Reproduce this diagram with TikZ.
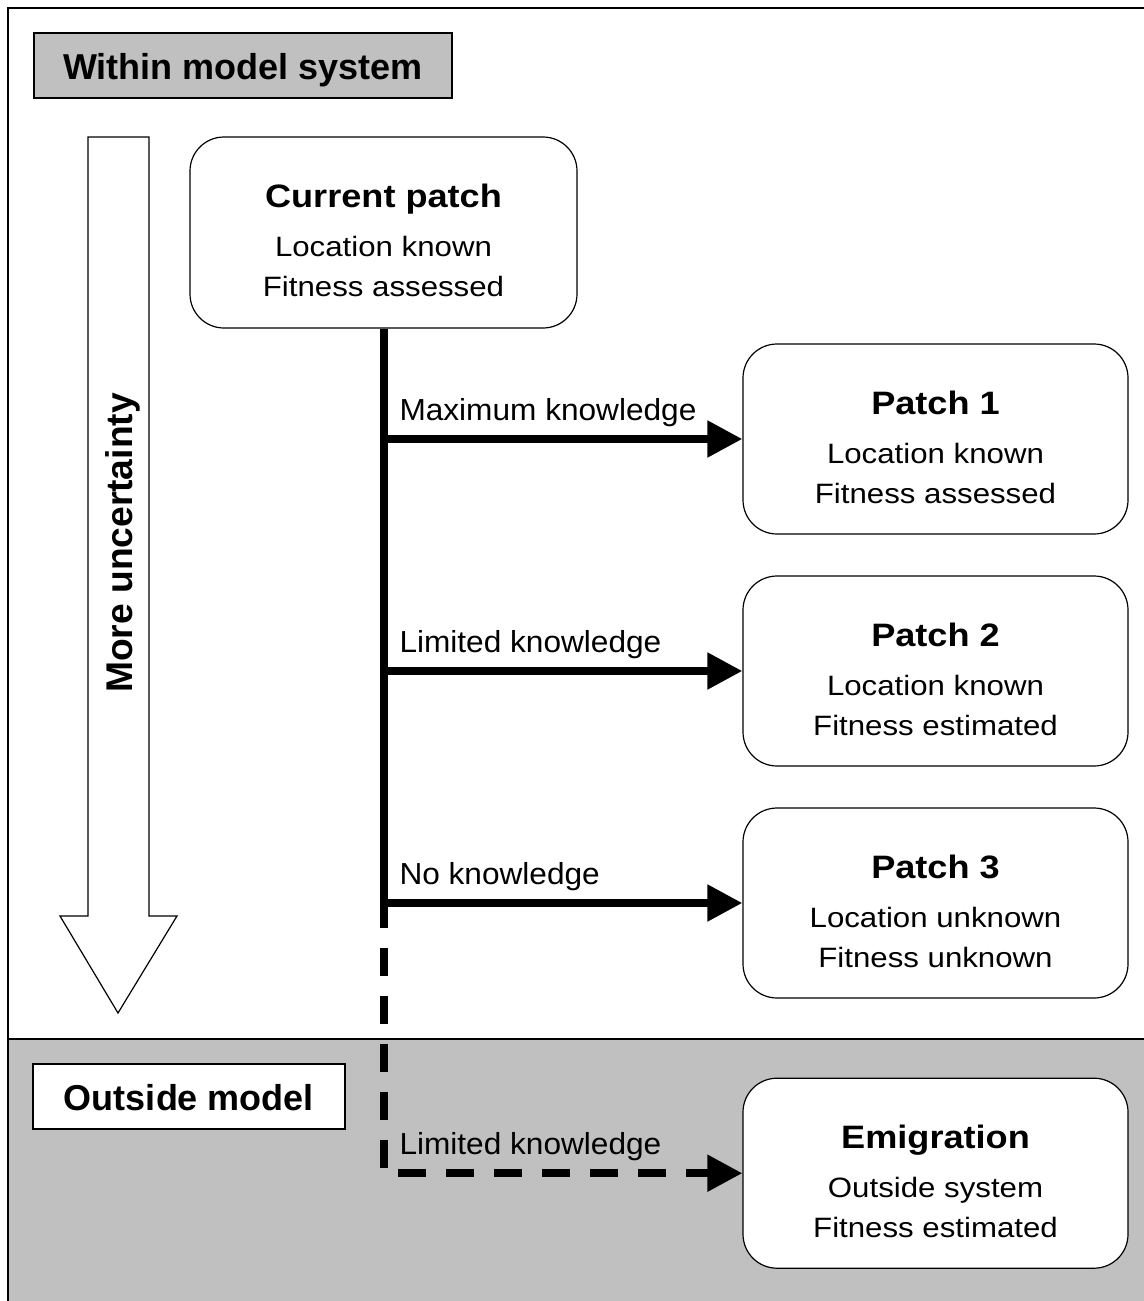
\documentclass[tikz,border=0pt]{standalone}
\usepackage{fontspec}
\setmainfont{Liberation Sans}
\newfontfamily\boxfont{Liberation Sans}[FakeStretch=1.115]
\newfontfamily\lblfont{Liberation Sans}[FakeStretch=1.04]
\usetikzlibrary{arrows.meta,positioning,calc}
\definecolor{zone}{RGB}{192,192,192}
\newcommand{\ptitle}[1]{{\bfseries\fontsize{16.2}{20}\selectfont\rule{0pt}{20pt}#1}}

\begin{document}
\begin{tikzpicture}[x=0.5pt, y=-0.5pt,
    rim/.style = {line width=0.6pt},
    patch/.style = {draw, rim, fill=white, rounded corners=17pt,
      minimum width=192.5pt, minimum height=95pt, inner sep=0pt,
      align=center, font=\boxfont\fontsize{14}{20}\selectfont}, % patch boxes
    head/.style = {draw, rim, minimum height=32.5pt, inner sep=0pt,
      text height=14pt, text depth=0pt,
      font=\fontsize{18}{22}\selectfont\bfseries}, % zone titles
    trunk/.style = {line width=4pt},
    flow/.style = {trunk, -{Triangle[length=17.5pt,width=17.5pt]}},
    gapped/.style = {dash pattern=on 14pt off 10pt, dash phase=14pt},
    lbl/.style = {anchor=base west, inner sep=0pt, xshift=6pt,
      yshift=9.25pt, font=\lblfont\fontsize{15.2}{18}\selectfont},
    ]
    \clip (0,0) rectangle (1144,1301);
    \fill[white] (0,0) rectangle (1144,1301);

    % the two zones
    \draw[rim] (8,1320) rectangle (1160,8);
    \fill[zone] (8,1039) rectangle (1160,1320);
    \draw[rim] (8,1039) -- (1160,1039);
    \draw[rim] (8,1039) -- (8,1320);

    \node[head, fill=zone, minimum width=209pt] (inside) at (243,65.5) {Within model system};
    \node[head, fill=white, minimum width=156pt] (outside) at (189,1096.5) {Outside model};

    % big arrow on the left
    \draw[rim, fill=white] (88,137) -- (149,137) -- (149,916) -- (177,916)
      -- (118,1013) -- (60,916) -- (88,916) -- cycle;
    \node[rotate=90, anchor=base, inner sep=0pt,
      font=\fontsize{18.6}{22}\selectfont\bfseries] (unc) at (132,543) {More uncertainty};

    \node[patch, minimum width=193.5pt, minimum height=95.5pt] (cp) at (383.5,232.5)
      {\ptitle{Current patch}\\[4.5pt]Location known\\Fitness assessed};

    \coordinate (brk) at ($(cp.south)+(0,599)$);
    \draw[trunk] (cp.south) -- (brk);

    \foreach \loc/\fit/\kn [count=\i] in {known/assessed/Maximum,
      known/estimated/Limited, unknown/unknown/No} {
      \node[patch] (P-\i) at (935.5,{439+(\i-1)*232})
        {\ptitle{Patch \i}\\[4.5pt]Location \loc\\Fitness \fit};
      \draw[flow] (cp.south |- P-\i.west) node[lbl] (K-\i) {\kn\ knowledge} -- (P-\i.west);
    }

    \node[patch, below=39.5pt of P-3] (em)
      {\ptitle{Emigration}\\[4.5pt]Outside system\\Fitness estimated};

    \draw[flow, gapped] (brk) -- (cp.south |- em.west)
      node[lbl] (K-4) {Limited knowledge} -- (em.west);
\end{tikzpicture}
\end{document}
